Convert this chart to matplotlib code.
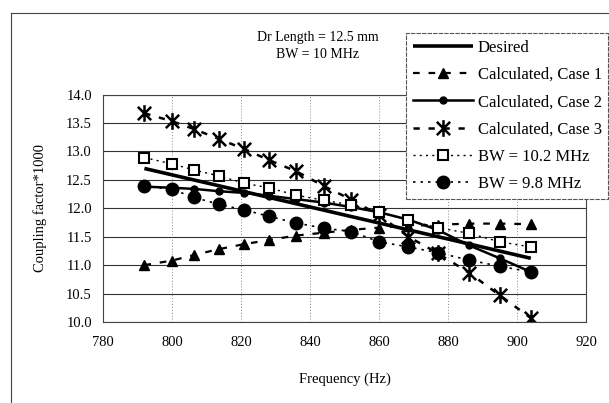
import matplotlib
matplotlib.use("Agg")
import matplotlib.pyplot as plt
from matplotlib.lines import Line2D
from matplotlib.path import Path

plt.rcParams['font.family'] = ['Liberation Serif', 'DejaVu Serif']

freq = [792, 800, 806.5, 813.5, 821, 828, 836, 844, 852, 860, 868.5, 877, 886, 895, 904]
desired_x = [792, 904]
desired_y = [12.70, 11.12]
case1 = [11.00, 11.08, 11.18, 11.28, 11.37, 11.44, 11.52, 11.57, 11.62, 11.66, 11.69, 11.71, 11.73, 11.73, 11.72]
case2 = [12.38, 12.36, 12.34, 12.30, 12.27, 12.22, 12.16, 12.10, 12.02, 11.93, 11.80, 11.62, 11.35, 11.12, 10.88]
case3 = [13.67, 13.53, 13.39, 13.22, 13.04, 12.85, 12.65, 12.39, 12.15, 11.88, 11.50, 11.21, 10.87, 10.47, 10.07]
bw102 = [12.89, 12.78, 12.67, 12.57, 12.44, 12.36, 12.23, 12.14, 12.06, 11.93, 11.79, 11.66, 11.56, 11.41, 11.32]
bw98 = [12.39, 12.33, 12.19, 12.07, 11.97, 11.86, 11.74, 11.65, 11.59, 11.41, 11.32, 11.22, 11.09, 10.98, 10.88]

labels = ['Desired', 'Calculated, Case 1', 'Calculated, Case 2', 'Calculated, Case 3',
          'BW = 10.2 MHz', 'BW = 9.8 MHz']
xticks = [780, 800, 820, 840, 860, 880, 900, 920]
yticks = [10.0, 10.5, 11.0, 11.5, 12.0, 12.5, 13.0, 13.5, 14.0]

W, H = 609, 403
fig = plt.figure(figsize=(W / 100, H / 100), dpi=100)
ax = fig.add_axes([103 / W, 1 - 322 / H, (586 - 103) / W, (322 - 94.5) / H])

# Excel-style star: an X with a vertical bar through it
star = Path([(-1, -1), (1, 1), (-1, 1), (1, -1), (0, -1.25), (0, 1.25)],
            [Path.MOVETO, Path.LINETO, Path.MOVETO, Path.LINETO, Path.MOVETO, Path.LINETO])

l0, = ax.plot(desired_x, desired_y, color='black', lw=2.6, solid_capstyle='butt')
l1, = ax.plot(freq, case1, color='black', lw=1.6, ls=(0, (3, 4)), marker='^', ms=7)
l2, = ax.plot(freq, case2, color='black', lw=1.8, ls='-', marker='o', ms=5)
l3, = ax.plot(freq, case3, color='black', lw=1.8, ls=(0, (2.5, 3.5)), marker=star, ms=12, mew=1.8)
l4, = ax.plot(freq, bw102, color='black', lw=1.0, ls=(0, (1.5, 3)), marker='s', ms=7,
              mfc='white', mec='black', mew=1.5)
l5, = ax.plot(freq, bw98, color='black', lw=1.2, ls=(0, (1.5, 3)), marker='o', ms=9)

ax.set_xlim(780, 920)
ax.set_ylim(10.0, 14.0)
ax.set_xticks(xticks)
ax.set_yticks(yticks)
ax.set_xticklabels([str(v) for v in xticks], fontsize=10.5)
ax.set_yticklabels([f"{v:.1f}" for v in yticks], fontsize=10.5)
ax.tick_params(axis='both', length=0, pad=8)
ax.tick_params(axis='x', pad=10)
ax.yaxis.grid(True, color='#333333', lw=0.8, ls='-')
ax.xaxis.grid(True, color='#888888', lw=0.7, ls=(0, (1, 2)))
ax.set_axisbelow(True)
for s in ax.spines.values():
    s.set_color('#444444')
    s.set_linewidth(0.8)

ax.set_xlabel('Frequency (Hz)', fontsize=10.5, labelpad=17)
ax.set_ylabel('Coupling factor*1000', fontsize=10.5, labelpad=14)

fig.text(318 / W, 1 - 37 / H, 'Dr Length = 12.5 mm', ha='center', va='center', fontsize=10)
fig.text(318 / W, 1 - 55 / H, 'BW = 10 MHz', ha='center', va='center', fontsize=10)

leg = fig.legend([l0, l1, l2, l3, l4, l5], labels, loc='upper left',
                 bbox_to_anchor=(406 / W, 1 - 33 / H), fontsize=12, frameon=True,
                 fancybox=False, edgecolor='#555555', handlelength=3.6, handletextpad=0.3,
                 labelspacing=0.68, borderpad=0.4, borderaxespad=0, framealpha=1)
leg.get_frame().set_linewidth(0.8)
leg.get_frame().set_linestyle((0, (4, 1)))

fig.add_artist(Line2D([11 / W, 11 / W], [0, 1 - 13 / H], transform=fig.transFigure,
                      color='#444444', lw=0.8))
fig.add_artist(Line2D([11 / W, 1], [1 - 13 / H, 1 - 13 / H], transform=fig.transFigure,
                      color='#444444', lw=0.8))

fig.savefig('out.png', dpi=100)
